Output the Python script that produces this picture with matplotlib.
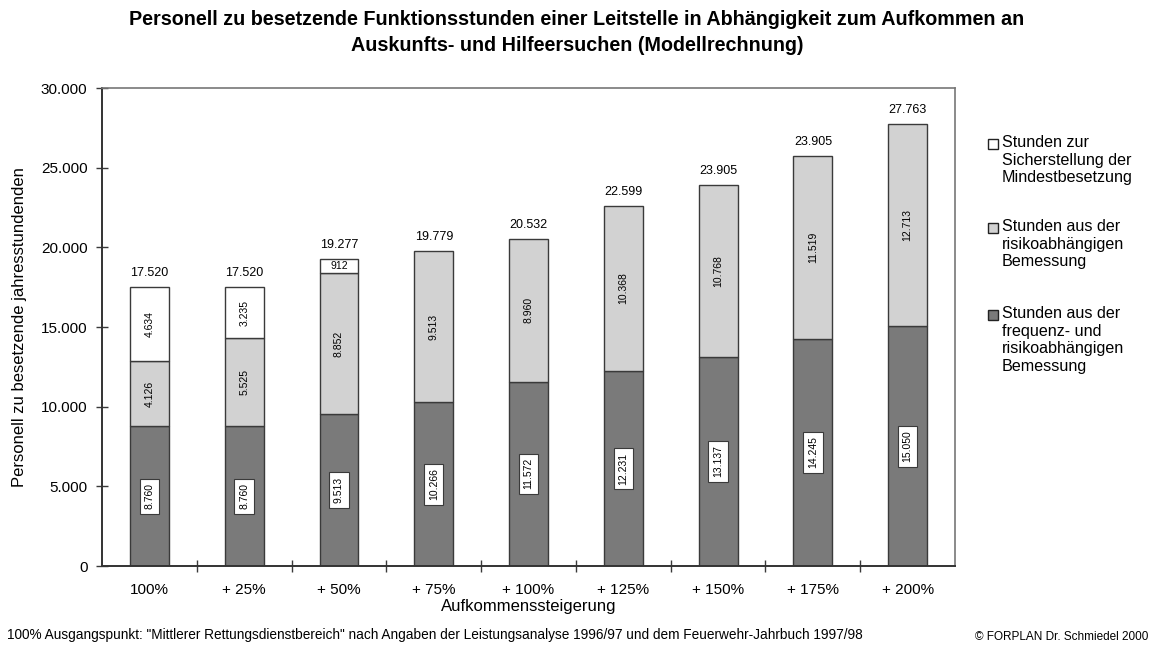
import matplotlib.pyplot as plt
from matplotlib.patches import Rectangle
from matplotlib.ticker import FixedLocator, FuncFormatter
import numpy as np

plt.rcParams['font.family'] = ['Liberation Sans', 'DejaVu Sans']

categories = ["100%", "+ 25%", "+ 50%", "+ 75%", "+ 100%", "+ 125%", "+ 150%", "+ 175%", "+ 200%"]
frequenz = [8760, 8760, 9513, 10266, 11572, 12231, 13137, 14245, 15050]
risiko = [4126, 5525, 8852, 9513, 8960, 10368, 10768, 11519, 12713]
mindest = [4634, 3235, 912, 0, 0, 0, 0, 0, 0]
# totals as printed in the original (the +175% label repeats 23.905)
total_labels = [17520, 17520, 19277, 19779, 20532, 22599, 23905, 23905, 27763]

legend_labels = [
    "Stunden zur\nSicherstellung der\nMindestbesetzung",
    "Stunden aus der\nrisikoabhängigen\nBemessung",
    "Stunden aus der\nfrequenz- und\nrisikoabhängigen\nBemessung",
]

dark = "#7a7a7a"
light = "#d2d2d2"
white = "#ffffff"
edge = "#3a3a3a"


def fmt(v):
    return f"{int(v):,}".replace(",", ".")


fig = plt.figure(figsize=(11.54, 6.5), dpi=100)
ax = fig.add_axes([0.0884, 0.1292, 0.7392, 0.7354])

x = np.arange(len(categories))
w = 0.41
f = np.array(frequenz)
r = np.array(risiko)
m = np.array(mindest)

ax.bar(x, f, w, color=dark, edgecolor=edge, linewidth=1)
ax.bar(x, r, w, bottom=f, color=light, edgecolor=edge, linewidth=1)
mask = m > 0
ax.bar(x[mask], m[mask], w, bottom=(f + r)[mask], color=white, edgecolor=edge, linewidth=1)

for i in range(len(categories)):
    ax.text(x[i], f[i] / 2, fmt(f[i]), rotation=90, ha="center", va="center", fontsize=7.5,
            bbox=dict(boxstyle="square,pad=0.45", facecolor="white", edgecolor=edge, linewidth=0.8))
    ax.text(x[i], f[i] + r[i] / 2, fmt(r[i]), rotation=90, ha="center", va="center", fontsize=7.5)
    if m[i] > 2000:
        ax.text(x[i], f[i] + r[i] + m[i] / 2, fmt(m[i]), rotation=90, ha="center", va="center", fontsize=7.5)
    elif m[i] > 0:
        ax.text(x[i], f[i] + r[i] + m[i] / 2, fmt(m[i]), ha="center", va="center", fontsize=7.5)
    top = f[i] + r[i] + m[i]
    ax.text(x[i], top + 500, fmt(total_labels[i]), ha="center", va="bottom", fontsize=9)

ax.set_xlim(-0.5, len(categories) - 0.5)
ax.set_ylim(0, 30000)
ax.set_yticks(np.arange(0, 30001, 5000))
ax.yaxis.set_major_formatter(FuncFormatter(lambda v, p: fmt(v)))
ax.set_xticks(x)
ax.set_xticklabels(categories, fontsize=11)
ax.xaxis.set_minor_locator(FixedLocator(np.arange(0.5, len(categories) - 0.5, 1)))
ax.tick_params(axis="x", which="major", length=0, pad=12)
ax.tick_params(axis="x", which="minor", direction="inout", length=9, width=1, color=edge)
ax.tick_params(axis="y", direction="inout", length=9, width=1, color=edge, labelsize=11, pad=6)
for s in ["left", "bottom"]:
    ax.spines[s].set_color("#333333")
    ax.spines[s].set_linewidth(1.4)
for s in ["top", "right"]:
    ax.spines[s].set_color("#777777")
    ax.spines[s].set_linewidth(1.2)

ax.set_xlabel("Aufkommenssteigerung", fontsize=12, labelpad=2)
ax.set_ylabel("Personell zu besetzende jahresstundenden", fontsize=12, labelpad=10)

fig.text(0.5, 0.985, "Personell zu besetzende Funktionsstunden einer Leitstelle in Abhängigkeit zum Aufkommen an\n"
         "Auskunfts- und Hilfeersuchen (Modellrechnung)", ha="center", va="top", fontsize=14.2,
         fontweight="bold", linespacing=1.5)

# legend drawn by hand so the squares sit on the first line
leg_y = [144, 228, 315]
for lab, col, yy in zip(legend_labels, [white, light, dark], leg_y):
    fig.patches.append(Rectangle((988 / 1154, 1 - (yy + 5) / 650), 10 / 1154, 10 / 650,
                                 transform=fig.transFigure, facecolor=col, edgecolor="#222222",
                                 linewidth=1))
    fig.text(1002 / 1154, 1 - (yy - 9) / 650, lab, ha="left", va="top", fontsize=11.6, linespacing=1.22)

fig.text(0.006, 1 - 635 / 650, '100% Ausgangspunkt: "Mittlerer Rettungsdienstbereich" nach Angaben der Leistungsanalyse '
         '1996/97 und dem Feuerwehr-Jahrbuch 1997/98', ha="left", va="center", fontsize=9.8)
fig.text(0.995, 1 - 637 / 650, "© FORPLAN Dr. Schmiedel 2000", ha="right", va="center", fontsize=8.5)

fig.savefig("out.png", dpi=100)
